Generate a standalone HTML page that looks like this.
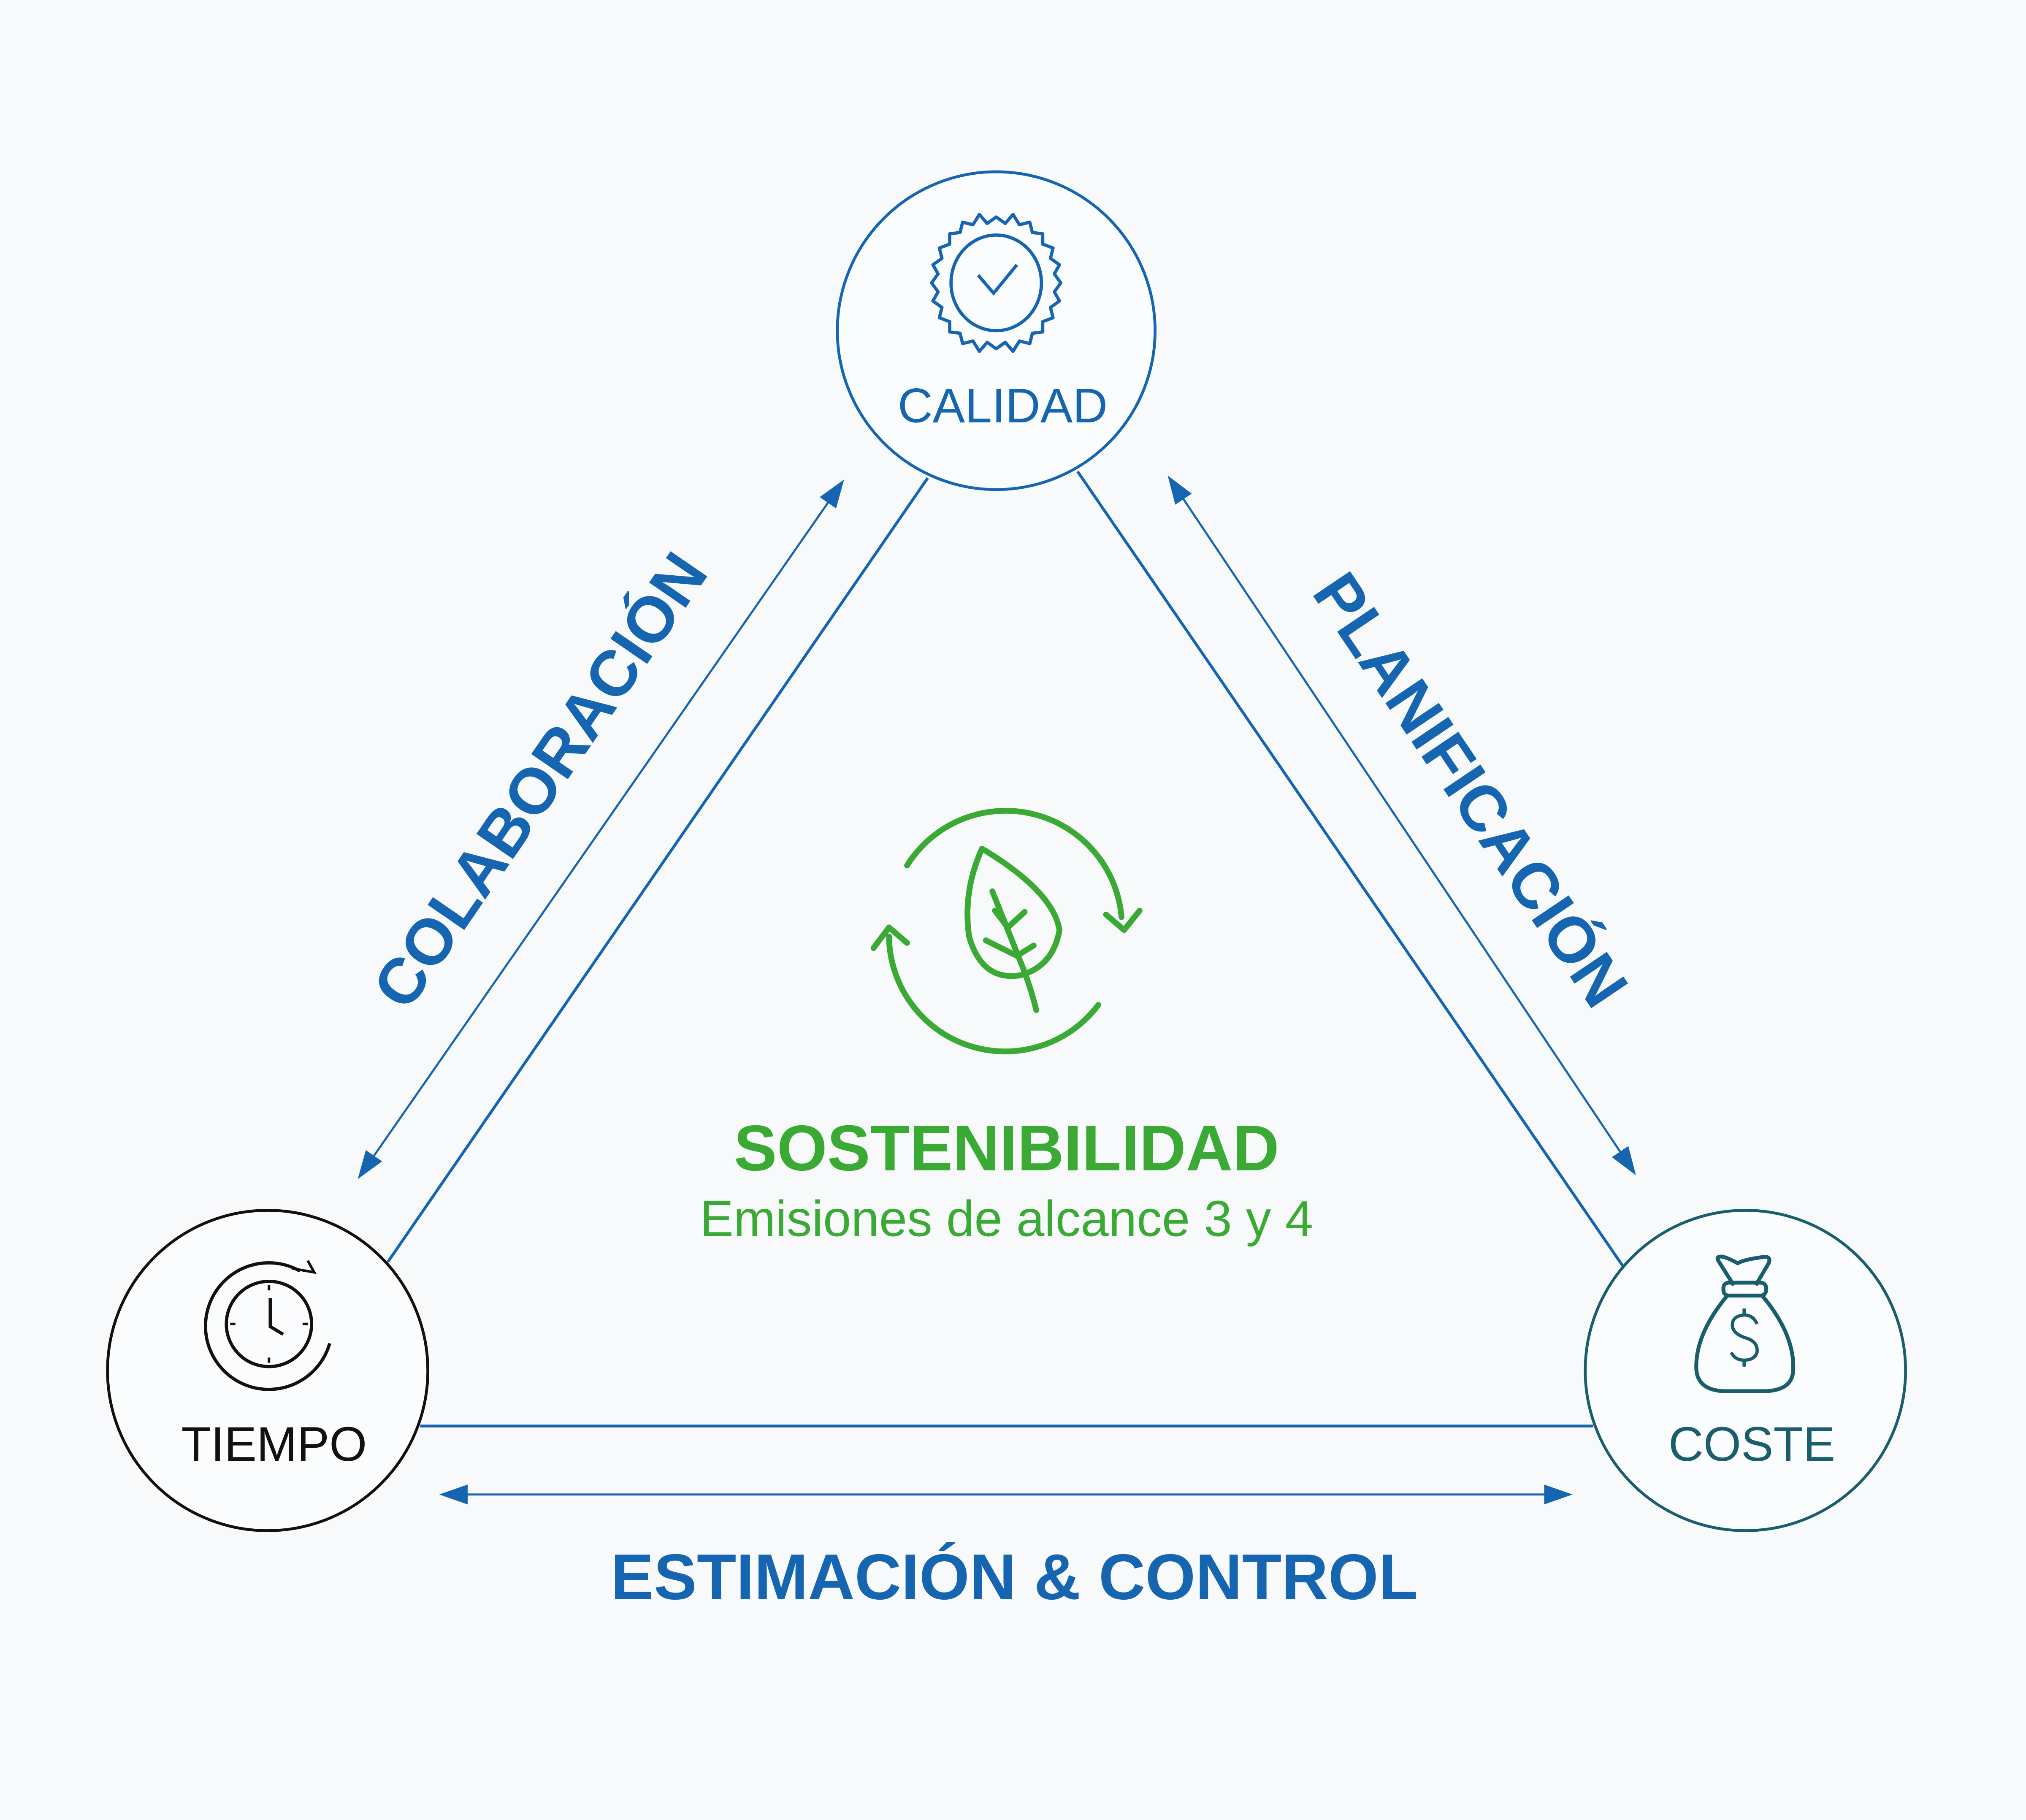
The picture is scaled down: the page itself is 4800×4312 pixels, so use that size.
<!DOCTYPE html>
<html><head><meta charset="utf-8"><style>
html,body{margin:0;padding:0;background:#f8f9fb}
svg{display:block}
</style></head><body>
<svg width="4800" height="4312" viewBox="0 0 1568 1409" xmlns="http://www.w3.org/2000/svg" font-family="Liberation Sans, sans-serif">
<defs>
<marker id="b" viewBox="0 0 10 10" refX="9" refY="5" markerWidth="22" markerHeight="22" markerUnits="userSpaceOnUse" orient="auto-start-reverse">
<path d="M0,1.5 L10,5 L0,8.5 z" fill="#1565b0"/></marker>
</defs>
<rect width="1568" height="1409" fill="#f8f9fb"/>
<g stroke="#1565b0" stroke-width="2.2" fill="none">
<line x1="718" y1="370" x2="300" y2="977"/>
<line x1="834" y1="365" x2="1256" y2="980"/>
<line x1="325" y1="1104" x2="1233" y2="1104"/>
</g>
<g stroke="#1565b0" stroke-width="1.6" fill="none">
<line x1="652" y1="373" x2="278" y2="911" marker-start="url(#b)" marker-end="url(#b)"/>
<line x1="905" y1="370" x2="1265" y2="908" marker-start="url(#b)" marker-end="url(#b)"/>
<line x1="342" y1="1157" x2="1215" y2="1157" marker-start="url(#b)" marker-end="url(#b)"/>
</g>
<circle cx="771" cy="256" r="123" fill="#fbfcfd" stroke="#1565b0" stroke-width="2.2"/>
<circle cx="207" cy="1061" r="124" fill="#fbfcfd" stroke="#111" stroke-width="2.2"/>
<circle cx="1351" cy="1061" r="124" fill="#fbfcfd" stroke="#1a5e6e" stroke-width="2.2"/>
<g fill="none" stroke="#1565b0" stroke-width="2.5">
<ellipse cx="771" cy="219" rx="35" ry="37"/>
<polyline points="757,213 769,227 787,205"/>
</g>
<path fill="none" stroke="#1565b0" stroke-width="2.5" d="
M771,168 L778,173 L784,166 L789,174 L797,172 L799,180 L807,181 L807,189 L815,192 L813,200 L820,205 L816,212 L821,219 L816,226 L820,233 L813,238 L815,246 L807,249 L807,257 L799,258 L797,266 L789,264 L784,272 L778,265 L771,270 L764,265 L758,272 L753,264 L745,266 L743,258 L735,257 L735,249 L727,246 L729,238 L722,233 L726,226 L721,219 L726,212 L722,205 L729,200 L727,192 L735,189 L735,181 L743,180 L745,172 L753,174 L758,166 L764,173 Z" stroke-linejoin="round"/>
<text x="776" y="327" text-anchor="middle" font-size="37.5" fill="#1565b0">CALIDAD</text>
<g fill="none" stroke="#111" stroke-width="2.5">
<path d="M255,1040 A49,49 0 1 1 232,984"/>
<path d="M226,982 L243,985 L238,976" stroke-width="2"/>
<circle cx="208" cy="1025" r="33"/>
<polyline points="209,1005 209,1027 219,1033"/>
</g>
<g stroke="#111" stroke-width="2">
<line x1="208" y1="995" x2="208" y2="999"/><line x1="208" y1="1051" x2="208" y2="1055"/>
<line x1="178" y1="1025" x2="182" y2="1025"/><line x1="234" y1="1025" x2="238" y2="1025"/>
</g>
<text x="212" y="1131" text-anchor="middle" font-size="37.5" fill="#111">TIEMPO</text>
<g fill="none" stroke="#1a5e6e" stroke-width="3" stroke-linejoin="round">
<path d="M1342,995 L1330,976 Q1328,972 1334,973 Q1340,975 1345,978 Q1350,975 1366,973 Q1371,973 1369,978 L1359,995"/>
<rect x="1334" y="993" width="33" height="10" rx="4"/>
<path d="M1337,1003 Q1312,1033 1313,1060 Q1314,1076 1334,1077 L1367,1077 Q1388,1076 1388,1060 Q1389,1033 1364,1003"/>
<path d="M1360,1025 Q1357,1018 1350,1018 Q1340,1019 1341,1027 Q1342,1033 1352,1036 Q1361,1039 1360,1047 Q1358,1053 1350,1053 Q1343,1053 1340,1047" stroke-width="2.5"/>
<line x1="1350" y1="1013" x2="1350" y2="1018" stroke-width="2.5"/><line x1="1350" y1="1053" x2="1350" y2="1058" stroke-width="2.5"/>
</g>
<text x="1356" y="1131" text-anchor="middle" font-size="37.5" fill="#1a5e6e">COSTE</text>
<g fill="none" stroke="#3aaa35" stroke-width="4.5" stroke-linecap="round" stroke-linejoin="round">
<path d="M702,670 A90,90 0 0 1 868,710"/>
<polyline points="856,708 870,720 882,705"/>
<path d="M850,778 A90,90 0 0 1 688,725"/>
<polyline points="676,734 688,718 702,730"/>
<path d="M760,657 Q745,690 750,725 Q760,760 790,755 Q815,748 820,720 Q815,690 760,657 Z"/>
<path d="M768,690 Q780,720 790,745 Q798,765 802,782"/>
<path d="M770,705 L780,718 L793,706"/>
<path d="M763,728 L787,740 L800,732"/>
</g>
<text x="779" y="906" text-anchor="middle" font-size="50" font-weight="bold" fill="#3aaa35">SOSTENIBILIDAD</text>
<text x="779" y="957" text-anchor="middle" font-size="39" fill="#3aaa35">Emisiones de alcance 3 y 4</text>
<text x="0" y="0" transform="translate(432,614) rotate(-55.5)" text-anchor="middle" font-size="50" font-weight="bold" fill="#1565b0">COLABORACIÓN</text>
<text x="0" y="0" transform="translate(1124,621) rotate(56)" text-anchor="middle" font-size="50" font-weight="bold" fill="#1565b0">PLANIFICACIÓN</text>
<text x="785" y="1238" text-anchor="middle" font-size="50" font-weight="bold" fill="#1565b0">ESTIMACIÓN &amp; CONTROL</text>
</svg>
</body></html>
